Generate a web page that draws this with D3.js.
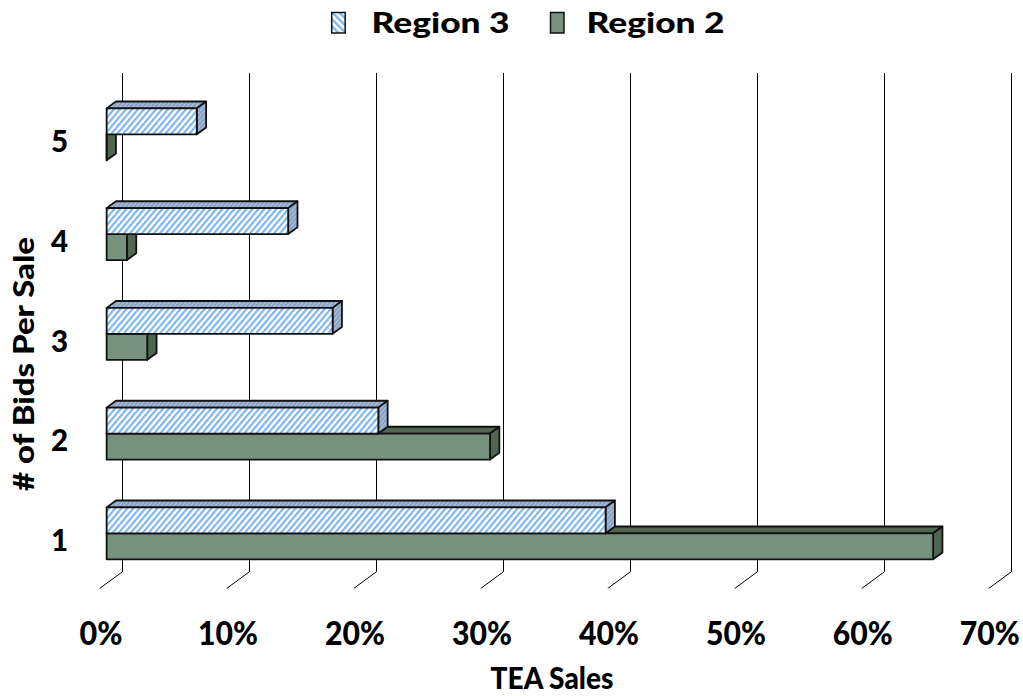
<!DOCTYPE html>
<html>
<head>
<meta charset="utf-8">
<script src="https://cdn.jsdelivr.net/npm/d3@7"></script>
<style>
  html, body { margin: 0; padding: 0; background: #ffffff; }
  svg { display: block; }
  text { font-family: "Lato", "Open Sans", sans-serif; font-weight: 900; fill: #000; }
</style>
</head>
<body>
<svg id="chart" width="1023" height="696"></svg>
<script>
// Share of TEA sales by number of bids per sale, two regions
const categories = ["1", "2", "3", "4", "5"];
const seriesNames = ["Region 3", "Region 2"];
const region3 = [0.393, 0.214, 0.178, 0.143, 0.071];
const region2 = [0.651, 0.302, 0.032, 0.016, 0.0];
const tickValues = [0, 0.1, 0.2, 0.3, 0.4, 0.5, 0.6, 0.7];
const xTitle = "TEA Sales";
const yTitle = "# of Bids Per Sale";

const svg = d3.select("#chart");
const defs = svg.append("defs");

// stripe fills
function stripes(id, bg, fg, size, width, angle) {
  const p = defs.append("pattern")
    .attr("id", id)
    .attr("patternUnits", "userSpaceOnUse")
    .attr("width", size).attr("height", size)
    .attr("patternTransform", `rotate(${angle})`);
  p.append("rect").attr("width", size).attr("height", size).attr("fill", bg);
  p.append("rect").attr("width", width).attr("height", size).attr("fill", fg);
}
stripes("hatchFront", "#ffffff", "#7fb5ee", 4.6, 2.2, 40);
stripes("hatchShade", "#8aa0c0", "#a9bddb", 3.2, 1.4, 40);
stripes("hatchLegend", "#ffffff", "#7fb5ee", 5, 2.4, -45);

const styles = {
  "Region 3": { front: "url(#hatchFront)", top: "url(#hatchShade)", side: "url(#hatchShade)" },
  "Region 2": { front: "#779380", top: "#506653", side: "#506653" }
};

// back-wall scales
const x = d3.scaleLinear().domain([0, 0.7]).range([122.3, 1011]);
const y = d3.scaleBand()
  .domain(categories.slice().reverse())
  .range([72.95, 571.7])
  .paddingInner(0.479)
  .paddingOuter(0.2395);
const sub = d3.scaleBand().domain(seriesNames).range([0, y.bandwidth()]);

// oblique depth: full floor depth vector from back wall to front edge
const D = { dx: -22.7, dy: 16.7 };
const tFront = 0.69, tBack = 0.28;
const fo = { x: D.dx * tFront, y: D.dy * tFront };
const bo = { x: D.dx * tBack, y: D.dy * tBack };
const floorY = y.range()[1];
const wallTop = y.range()[0];

// gridlines on the back wall, continuing across the floor
const grid = svg.append("g").attr("stroke", "#000").attr("stroke-width", 1).attr("fill", "none");
grid.selectAll("path")
  .data(tickValues)
  .join("path")
  .attr("d", d => {
    const gx = Math.round(x(d)) + 0.5;
    return `M${gx},${wallTop}V${floorY}L${gx + D.dx},${floorY + D.dy}`;
  });

// bars
const rows = categories.map((c, i) => ({ cat: c, values: { "Region 3": region3[i], "Region 2": region2[i] } }));
const drawOrder = rows.slice().reverse();
const bars = svg.append("g")
  .attr("stroke", "#111")
  .attr("stroke-width", 1.8)
  .attr("stroke-linejoin", "round");

drawOrder.forEach(row => {
  ["Region 2", "Region 3"].forEach(s => {
    const v = row.values[s];
    const y0 = y(row.cat) + sub(s);
    const h = sub.bandwidth();
    const x0 = x(0), x1 = x(v);
    const st = styles[s];
    const g = bars.append("g");
    const poly = pts => "M" + pts.map(p => p.join(",")).join("L") + "Z";
    g.append("path")
      .attr("fill", st.top)
      .attr("d", poly([[x0 + fo.x, y0 + fo.y], [x1 + fo.x, y0 + fo.y], [x1 + bo.x, y0 + bo.y], [x0 + bo.x, y0 + bo.y]]));
    g.append("path")
      .attr("fill", st.side)
      .attr("d", poly([[x1 + fo.x, y0 + fo.y], [x1 + bo.x, y0 + bo.y], [x1 + bo.x, y0 + h + bo.y], [x1 + fo.x, y0 + h + fo.y]]));
    g.append("path")
      .attr("fill", st.front)
      .attr("d", poly([[x0 + fo.x, y0 + fo.y], [x1 + fo.x, y0 + fo.y], [x1 + fo.x, y0 + h + fo.y], [x0 + fo.x, y0 + h + fo.y]]));
  });
});

// value axis labels along the front edge of the floor
const xAxis = svg.append("g")
  .attr("transform", `translate(${D.dx + 1},645)`)
  .call(d3.axisBottom(x).tickValues(tickValues).tickSize(0).tickPadding(0).tickFormat(d3.format(".0%")));
xAxis.select(".domain").remove();
xAxis.selectAll("text")
  .attr("y", 0).attr("dy", 0)
  .attr("fill", "#000")
  .style("font-family", "Lato, 'Open Sans', sans-serif")
  .style("font-weight", 900)
  .style("font-size", "32.5px")
  .attr("textLength", d => d === 0 ? 43 : 60)
  .attr("lengthAdjust", "spacingAndGlyphs");

// category labels
const yAxis = svg.append("g")
  .attr("transform", `translate(${x(0) + D.dx},${D.dy})`)
  .call(d3.axisLeft(y).tickSize(0).tickPadding(31.6));
yAxis.select(".domain").remove();
yAxis.selectAll("text")
  .attr("dy", 12.7)
  .attr("fill", "#000")
  .style("font-family", "Lato, 'Open Sans', sans-serif")
  .style("font-weight", 900)
  .style("font-size", "29.5px");

// axis titles
svg.append("text")
  .attr("x", 552).attr("y", 689)
  .attr("text-anchor", "middle")
  .style("font-size", "30px")
  .attr("textLength", 123).attr("lengthAdjust", "spacingAndGlyphs")
  .text(xTitle);

svg.append("text")
  .attr("transform", "translate(33.8,364) rotate(-90)")
  .attr("text-anchor", "middle")
  .style("font-size", "27.5px")
  .attr("textLength", 254).attr("lengthAdjust", "spacingAndGlyphs")
  .text(yTitle);

// legend
const legendItems = [
  { name: "Region 3", fill: "url(#hatchLegend)", sx: 331.7, tx: 371.5 },
  { name: "Region 2", fill: "#779380", sx: 550.5, tx: 586.5 }
];
const legend = svg.append("g");
legendItems.forEach(it => {
  legend.append("rect")
    .attr("x", it.sx).attr("y", 12.5)
    .attr("width", 13.5).attr("height", 20.5)
    .attr("fill", it.fill)
    .attr("stroke", "#111").attr("stroke-width", 1.5);
  legend.append("text")
    .attr("x", it.tx).attr("y", 33.3)
    .style("font-size", "28px")
    .attr("textLength", 138).attr("lengthAdjust", "spacingAndGlyphs")
    .text(it.name);
});
</script>
</body>
</html>
